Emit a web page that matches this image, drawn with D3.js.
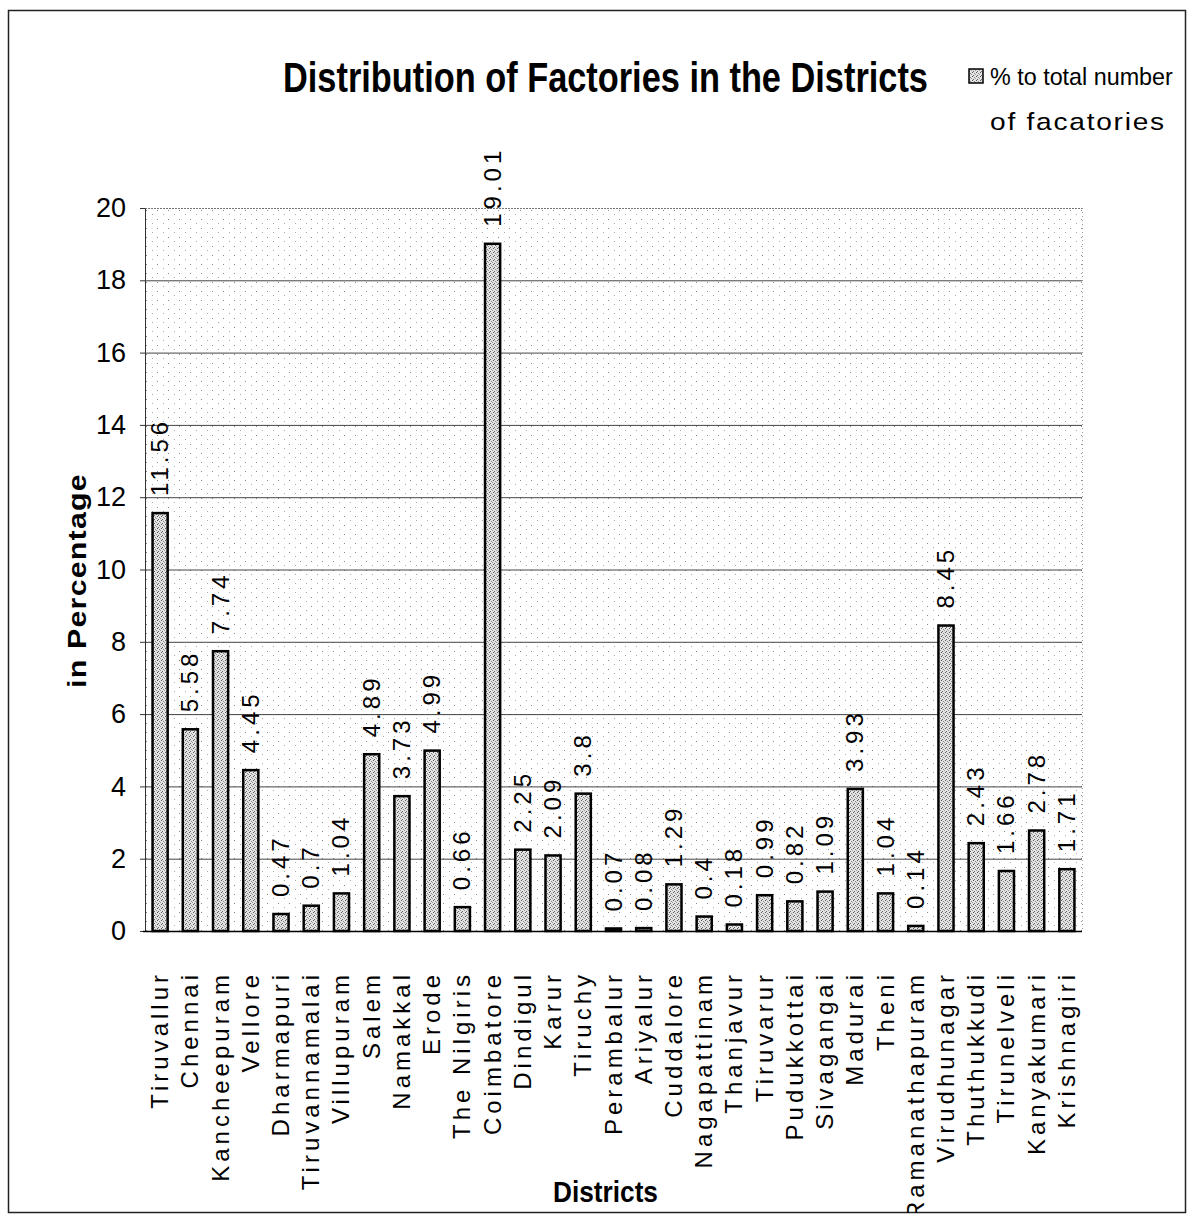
<!DOCTYPE html>
<html>
<head>
<meta charset="utf-8">
<script src="https://cdn.jsdelivr.net/npm/d3@7"></script>
<style>
  body { margin: 0; background: #fff; }
  svg text { font-family: "Liberation Sans Narrow", "Arial Narrow", "Liberation Sans", Arial, sans-serif; }
  .catLabel, .valLabel { font-family: "Liberation Sans", Arial, sans-serif; }
</style>
</head>
<body>
<div id="chart"></div>
<script>
// data
var districts = ["Tiruvallur", "Chennai", "Kancheepuram", "Vellore", "Dharmapuri",
  "Tiruvannamalai", "Villupuram", "Salem", "Namakkal", "Erode", "The Nilgiris",
  "Coimbatore", "Dindigul", "Karur", "Tiruchy", "Perambalur", "Ariyalur",
  "Cuddalore", "Nagapattinam", "Thanjavur", "Tiruvarur", "Pudukkottai",
  "Sivagangai", "Madurai", "Theni", "Ramanathapuram", "Virudhunagar",
  "Thuthukkudi", "Tirunelveli", "Kanyakumari", "Krishnagiri"];
var percentages = [11.56, 5.58, 7.74, 4.45, 0.47, 0.7, 1.04, 4.89, 3.73, 4.99, 0.66,
  19.01, 2.25, 2.09, 3.8, 0.07, 0.08, 1.29, 0.4, 0.18, 0.99, 0.82, 1.09, 3.93,
  1.04, 0.14, 8.45, 2.43, 1.66, 2.78, 1.71];
var yTicks = [0, 2, 4, 6, 8, 10, 12, 14, 16, 18, 20];
var seriesName = ["% to total number", "of facatories"];

var W = 1188, H = 1225;
var margin = {top: 208, right: 106, bottom: 294, left: 145};
var width = W - margin.left - margin.right;
var height = H - margin.top - margin.bottom;

var svg = d3.select("#chart").append("svg")
    .attr("width", W)
    .attr("height", H);

var defs = svg.append("defs");

// speckled plot background, like the scan
var bgPat = defs.append("pattern")
    .attr("id", "bgDots")
    .attr("width", 11).attr("height", 9)
    .attr("patternUnits", "userSpaceOnUse");
bgPat.append("rect").attr("width", 11).attr("height", 9).attr("fill", "#fff");
bgPat.append("rect").attr("x", 1).attr("y", 2).attr("width", 1).attr("height", 1).attr("fill", "#888");
bgPat.append("rect").attr("x", 7).attr("y", 6).attr("width", 1).attr("height", 1).attr("fill", "#aaa");

// stippled bar fill
var barPat = defs.append("pattern")
    .attr("id", "barDots")
    .attr("width", 4).attr("height", 4)
    .attr("patternUnits", "userSpaceOnUse");
barPat.append("rect").attr("width", 4).attr("height", 4).attr("fill", "#e4e4e4");
barPat.append("rect").attr("x", 0).attr("y", 0).attr("width", 1).attr("height", 1).attr("fill", "#555");
barPat.append("rect").attr("x", 2).attr("y", 1).attr("width", 1).attr("height", 1).attr("fill", "#888");
barPat.append("rect").attr("x", 1).attr("y", 3).attr("width", 1).attr("height", 1).attr("fill", "#666");
barPat.append("rect").attr("x", 3).attr("y", 2).attr("width", 1).attr("height", 1).attr("fill", "#999");

defs.append("clipPath").attr("id", "frameClip")
  .append("rect")
    .attr("x", 8).attr("y", 10)
    .attr("width", 1178).attr("height", 1203);

// squeeze/stretch a text horizontally so it spans w pixels
function fitText(sel, tx, ty, w, rot) {
  var len = sel.node().getComputedTextLength();
  var s = w / len;
  sel.attr("transform", "translate(" + tx + "," + ty + ")" + (rot ? " rotate(" + rot + ")" : "") + " scale(" + s + ",1)");
}

// outer frame
svg.append("rect")
    .attr("x", 8.5).attr("y", 10.5)
    .attr("width", 1177).attr("height", 1202)
    .attr("fill", "none")
    .attr("stroke", "#222")
    .attr("stroke-width", 1.5);

var g = svg.append("g")
    .attr("transform", "translate(" + margin.left + "," + margin.top + ")");

var x = d3.scaleBand()
    .domain(districts)
    .range([0, width])
    .paddingInner(0.5)
    .paddingOuter(0.25);

var y = d3.scaleLinear()
    .domain([0, 20])
    .range([height, 0]);

// plot area
g.append("rect")
    .attr("width", width)
    .attr("height", height)
    .attr("fill", "url(#bgDots)");

// gridlines
g.selectAll(".grid")
    .data(yTicks.filter(function(d) { return d > 0; }))
  .enter().append("line")
    .attr("class", "grid")
    .attr("x1", 0).attr("x2", width)
    .attr("y1", function(d) { return y(d) + 0.5; })
    .attr("y2", function(d) { return y(d) + 0.5; })
    .attr("stroke", function(d) { return d === 20 ? "#777" : "#444"; })
    .attr("stroke-dasharray", function(d) { return d === 20 ? "2,1" : null; })
    .attr("stroke-width", 1);

// right edge of plot, dotted
g.append("line")
    .attr("x1", width + 0.5).attr("x2", width + 0.5)
    .attr("y1", 0).attr("y2", height)
    .attr("stroke", "#999")
    .attr("stroke-dasharray", "1,3");

// y axis
var yAxis = g.append("g")
    .call(d3.axisLeft(y).tickValues(yTicks).tickSize(5).tickSizeOuter(0).tickPadding(14));
yAxis.select(".domain").attr("stroke", "#333");
yAxis.selectAll(".tick line").attr("stroke", "#333");
yAxis.selectAll("text")
    .attr("fill", "#000")
    .style("font-size", "27px");

// bars
g.selectAll(".bar")
    .data(percentages)
  .enter().append("rect")
    .attr("class", "bar")
    .attr("x", function(d, i) { return x(districts[i]); })
    .attr("y", function(d) { return y(d); })
    .attr("width", x.bandwidth())
    .attr("height", function(d) { return height - y(d); })
    .attr("fill", "url(#barDots)")
    .attr("stroke", "#000")
    .attr("stroke-width", 2.5);

// x axis line
g.append("line")
    .attr("x1", -2).attr("x2", width)
    .attr("y1", height + 0.5).attr("y2", height + 0.5)
    .attr("stroke", "#000")
    .attr("stroke-width", 1.5);

// value labels, rotated
g.selectAll(".valLabel")
    .data(percentages)
  .enter().append("text")
    .attr("class", "valLabel")
    .attr("transform", function(d, i) {
      return "translate(" + (x(districts[i]) + x.bandwidth() / 2 + 8) + "," + (y(d) - 17) + ") rotate(-90)";
    })
    .attr("text-anchor", "start")
    .style("font-size", "24px")
    .style("letter-spacing", "4px")
    .text(function(d) { return d; });

// category labels, rotated
svg.append("g")
    .attr("clip-path", "url(#frameClip)")
  .selectAll(".catLabel")
    .data(districts)
  .enter().append("text")
    .attr("class", "catLabel")
    .attr("transform", function(d) {
      return "translate(" + (margin.left + x(d) + x.bandwidth() / 2 + 8) + "," + (margin.top + height + 40) + ") rotate(-90)";
    })
    .attr("text-anchor", "end")
    .style("font-size", "24px")
    .style("letter-spacing", "4px")
    .text(function(d) { return d; });

// title
var title = svg.append("text")
    .style("font-size", "42px")
    .style("font-weight", "bold")
    .text("Distribution of Factories in the Districts");
fitText(title, 283, 92, 645);

// legend
svg.append("rect")
    .attr("x", 969).attr("y", 69)
    .attr("width", 14).attr("height", 14)
    .attr("fill", "url(#barDots)")
    .attr("stroke", "#000")
    .attr("stroke-width", 1.5);
svg.selectAll(".legText")
    .data(seriesName)
  .enter().append("text")
    .attr("class", "legText")
    .style("font-size", "24px")
    .style("letter-spacing", function(d, i) { return i === 0 ? "0px" : "1.5px"; })
    .text(function(d) { return d; })
    .each(function(d, i) {
      fitText(d3.select(this), 990, 85 + i * 45, i === 0 ? 183 : 176);
    });

// axis titles
var yTitle = svg.append("text")
    .style("font-size", "25px")
    .style("font-weight", "bold")
    .style("letter-spacing", "1px")
    .style("font-family", "'Liberation Sans', Arial, sans-serif")
    .text("in Percentage");
fitText(yTitle, 86, 688, 215, -90);

var xTitle = svg.append("text")
    .style("font-size", "30px")
    .style("font-weight", "bold")
    .text("Districts");
fitText(xTitle, 553, 1202, 105);
</script>
</body>
</html>
